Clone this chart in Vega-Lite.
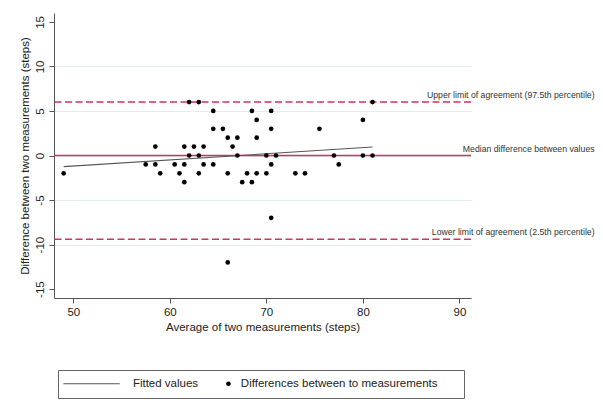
{
  "$schema": "https://vega.github.io/schema/vega-lite/v6.json",
  "width": 417,
  "height": 285,
  "autosize": {"type": "none"},
  "padding": {"left": 54, "top": 13, "right": 132, "bottom": 117},
  "background": "white",
  "config": {
    "font": "Liberation Sans",
    "view": {"stroke": null},
    "axis": {
      "domainColor": "#555",
      "tickColor": "#555",
      "tickSize": 5,
      "labelColor": "#222",
      "titleColor": "#222",
      "labelFontSize": 11.5,
      "titleFontSize": 11.5,
      "titleFontWeight": "normal",
      "labelFont": "Liberation Sans",
      "titleFont": "Liberation Sans"
    },
    "legend": {
      "labelFontSize": 11.5,
      "labelColor": "#222",
      "labelFont": "Liberation Sans",
      "labelLimit": 400,
      "orient": "none",
      "direction": "horizontal",
      "padding": 8
    }
  },
  "datasets": {
    "points": [
      {"avg": 49, "diff": -2}, {"avg": 57.5, "diff": -1}, {"avg": 58.5, "diff": 1}, {"avg": 58.5, "diff": -1},
      {"avg": 59, "diff": -2}, {"avg": 60.5, "diff": -1}, {"avg": 61, "diff": -2}, {"avg": 61.5, "diff": 1},
      {"avg": 61.5, "diff": -1}, {"avg": 61.5, "diff": -3}, {"avg": 62, "diff": 6}, {"avg": 62, "diff": 0},
      {"avg": 62.5, "diff": 1}, {"avg": 63, "diff": 6}, {"avg": 63, "diff": 0}, {"avg": 63, "diff": -2},
      {"avg": 63.5, "diff": 1}, {"avg": 63.5, "diff": -1}, {"avg": 64.5, "diff": 5}, {"avg": 64.5, "diff": 3},
      {"avg": 64.5, "diff": -1}, {"avg": 65.5, "diff": 3}, {"avg": 66, "diff": 2}, {"avg": 66, "diff": -2},
      {"avg": 66, "diff": -12}, {"avg": 66.5, "diff": 1}, {"avg": 67, "diff": 2}, {"avg": 67, "diff": 0},
      {"avg": 67.5, "diff": -3}, {"avg": 68, "diff": -2}, {"avg": 68.5, "diff": 5}, {"avg": 68.5, "diff": -3},
      {"avg": 69, "diff": 4}, {"avg": 69, "diff": 2}, {"avg": 69, "diff": -2}, {"avg": 70, "diff": 0},
      {"avg": 70, "diff": -2}, {"avg": 70.5, "diff": 5}, {"avg": 70.5, "diff": 3}, {"avg": 70.5, "diff": -1},
      {"avg": 70.5, "diff": -7}, {"avg": 71, "diff": 0}, {"avg": 73, "diff": -2}, {"avg": 74, "diff": -2},
      {"avg": 75.5, "diff": 3}, {"avg": 77, "diff": 0}, {"avg": 77.5, "diff": -1}, {"avg": 80, "diff": 4},
      {"avg": 80, "diff": 0}, {"avg": 81, "diff": 6}, {"avg": 81, "diff": 0}
    ],
    "fit": [{"avg": 49, "diff": -1.25}, {"avg": 81, "diff": 0.95}],
    "limits": [
      {"avg": 104, "diff": 6, "kind": "limit", "label": "Upper limit of agreement (97.5th percentile)"},
      {"avg": 104, "diff": 0, "kind": "median", "label": "Median difference between values"},
      {"avg": 104, "diff": -9.4, "kind": "limit", "label": "Lower limit of agreement (2.5th percentile)"}
    ]
  },
  "layer": [
    {
      "data": {"name": "limits"},
      "mark": {"type": "rule", "color": "#d3325b", "strokeWidth": 1.6},
      "encoding": {
        "y": {"field": "diff", "type": "quantitative", "scale": {"domain": [-16, 16], "nice": false, "zero": false}},
        "strokeDash": {"field": "kind", "type": "nominal", "scale": {"domain": ["limit", "median"], "range": [[7, 3.5], [1, 0]]}, "legend": null}
      }
    },
    {
      "data": {"name": "fit"},
      "mark": {"type": "line", "strokeWidth": 1.1},
      "encoding": {
        "x": {"field": "avg", "type": "quantitative", "scale": {"domain": [48, 91.2], "nice": false, "zero": false}},
        "y": {"field": "diff", "type": "quantitative", "scale": {"domain": [-16, 16], "nice": false, "zero": false}},
        "color": {
          "datum": "Fitted values",
          "scale": {"range": ["#555"]},
          "legend": {
            "title": "\u00a0",
            "titleOrient": "right",
            "titlePadding": 258,
            "titleFontSize": 11.5,
            "legendX": 4,
            "legendY": 357,
            "strokeColor": "#666",
            "symbolType": "M-12,0L12,0",
            "symbolSize": 22,
            "symbolStrokeWidth": 1.1,
            "symbolOffset": 19.8,
            "labelOffset": 35.6
          }
        }
      }
    },
    {
      "data": {"name": "points"},
      "mark": {"type": "point", "filled": true, "color": "black", "size": 22, "opacity": 1},
      "encoding": {
        "x": {
          "field": "avg", "type": "quantitative",
          "scale": {"domain": [48, 91.2], "nice": false, "zero": false},
          "axis": {"title": "Average of two measurements (steps)", "values": [50, 60, 70, 80, 90], "grid": false, "labelPadding": 3, "titlePadding": 4, "labelExpr": "'' + datum.value"}
        },
        "y": {
          "field": "diff", "type": "quantitative",
          "scale": {"domain": [-16, 16], "nice": false, "zero": false},
          "axis": {
            "title": "Difference between two measurements (steps)",
            "values": [-15, -10, -5, 0, 5, 10, 15],
            "labelAngle": -90, "labelAlign": "center", "labelBaseline": "alphabetic", "labelPadding": 6,
            "titlePadding": 4,
            "labelExpr": "'' + datum.value",
            "grid": true,
            "gridColor": {"condition": {"test": "abs(datum.value) == 15", "value": "transparent"}, "value": "#e4eeef"},
            "gridWidth": 1.2
          }
        },
        "shape": {
          "datum": "Differences between to measurements",
          "scale": {"range": ["circle"]},
          "legend": {
            "title": null,
            "legendX": 160.7,
            "legendY": 357,
            "symbolSize": 22,
            "symbolFillColor": "black",
            "symbolOpacity": 1,
            "labelOffset": 6.65
          }
        }
      }
    },
    {
      "data": {"name": "limits"},
      "mark": {"type": "text", "align": "right", "baseline": "alphabetic", "dy": -4, "fontSize": 8.7, "color": "#333", "font": "Liberation Sans"},
      "encoding": {
        "x": {"field": "avg", "type": "quantitative", "scale": {"domain": [48, 91.2], "nice": false, "zero": false}},
        "y": {"field": "diff", "type": "quantitative", "scale": {"domain": [-16, 16], "nice": false, "zero": false}},
        "text": {"field": "label"}
      }
    }
  ]
}
